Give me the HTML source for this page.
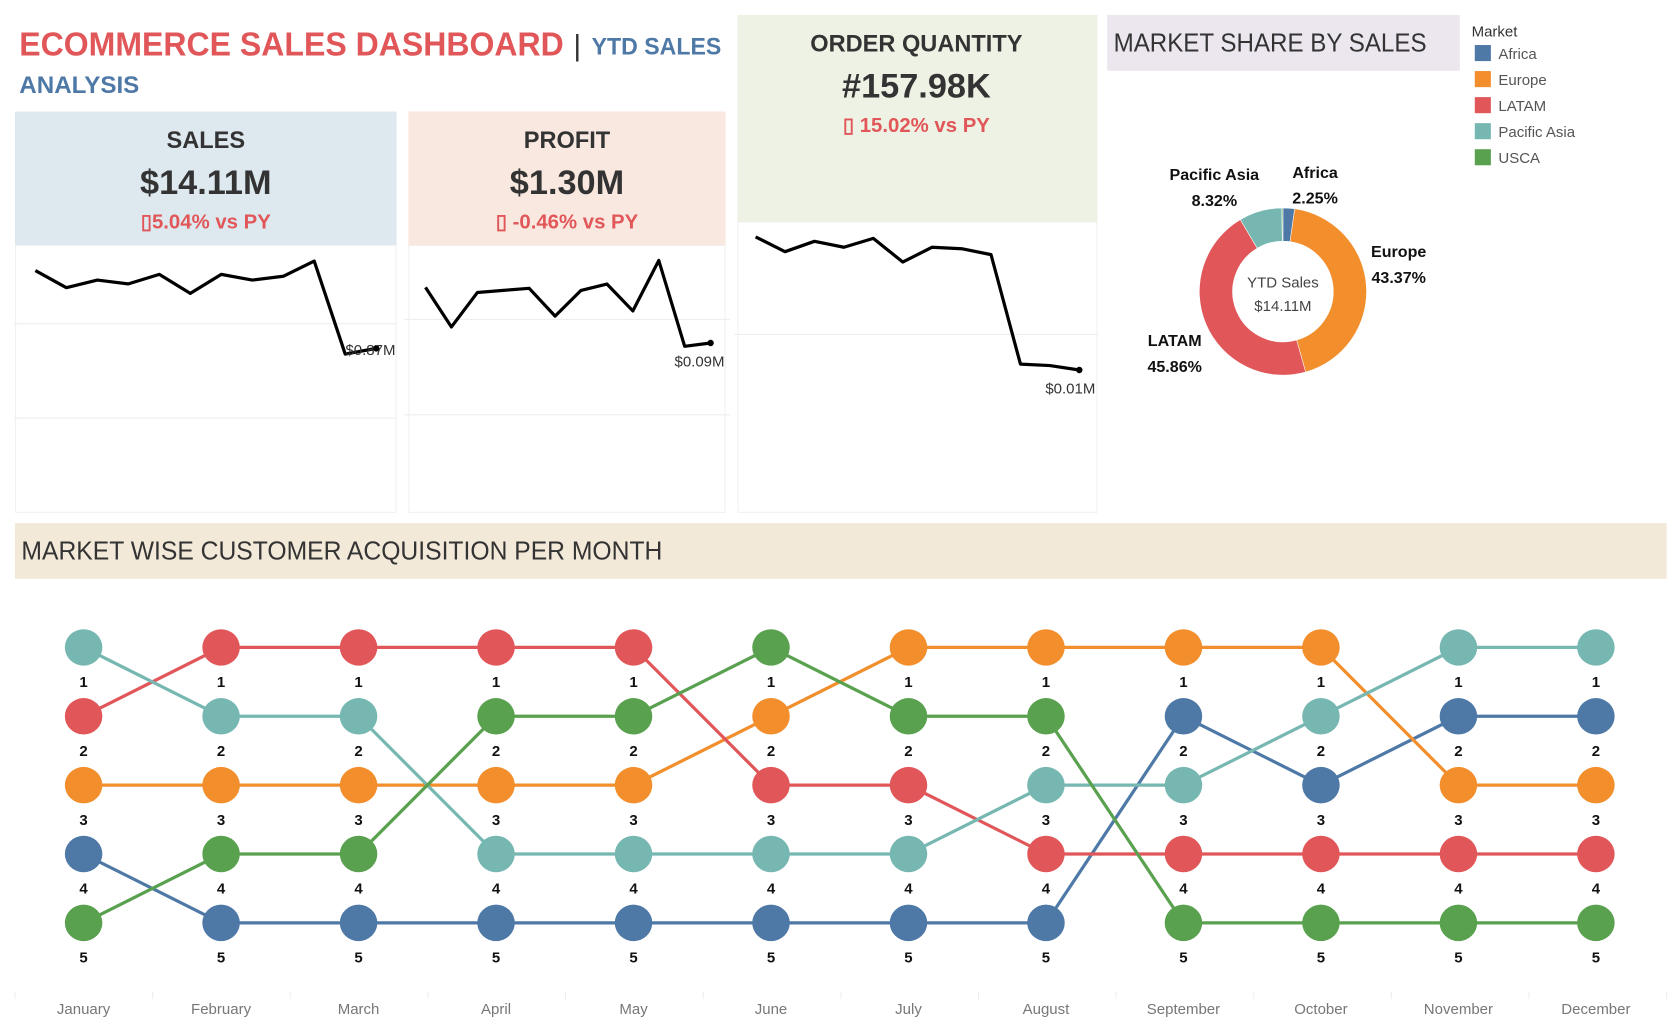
<!DOCTYPE html>
<html><head><meta charset="utf-8">
<style>
html,body{margin:0;padding:0;background:#fff;}
svg{display:block;font-family:"Liberation Sans",sans-serif;}
</style></head>
<body>
<svg id="dash" width="1672" height="1029" viewBox="0 0 1560 960" preserveAspectRatio="none" xmlns="http://www.w3.org/2000/svg">
  <!-- Title -->
  <text x="18" y="52" font-size="31" font-weight="bold" fill="#e15759" textLength="508" lengthAdjust="spacingAndGlyphs">ECOMMERCE SALES DASHBOARD</text>
  <text x="535" y="52" font-size="28" fill="#333">|</text>
  <text x="552" y="51" font-size="22" font-weight="bold" fill="#4e79a7" textLength="121" lengthAdjust="spacingAndGlyphs">YTD SALES</text>
  <text x="18" y="87" font-size="22" font-weight="bold" fill="#4e79a7" textLength="112" lengthAdjust="spacingAndGlyphs">ANALYSIS</text>

  <!-- Sales KPI -->
  <g>
    <rect x="14" y="104" width="356" height="125" fill="#dde9ef"/>
    <rect x="14.5" y="229" width="355" height="249" fill="#fff" stroke="#f0f0f0"/>
    <text x="192" y="138" text-anchor="middle" font-size="22" font-weight="bold" fill="#333">SALES</text>
    <text x="192" y="181" text-anchor="middle" font-size="32" font-weight="bold" fill="#333">$14.11M</text>
    <text x="192" y="213" text-anchor="middle" font-size="19" font-weight="bold" fill="#e15759">▯5.04%  vs  PY</text>
  </g>
  <!-- Profit KPI -->
  <g>
    <rect x="381" y="104" width="296" height="125" fill="#f9e8e0"/>
    <rect x="381.5" y="229" width="295" height="249" fill="#fff" stroke="#f0f0f0"/>
    <text x="529" y="138" text-anchor="middle" font-size="22" font-weight="bold" fill="#333">PROFIT</text>
    <text x="529" y="181" text-anchor="middle" font-size="32" font-weight="bold" fill="#333">$1.30M</text>
    <text x="529" y="213" text-anchor="middle" font-size="19" font-weight="bold" fill="#e15759">▯ -0.46% vs PY</text>
  </g>
  <!-- Order Quantity KPI -->
  <g>
    <rect x="688" y="14" width="336" height="193" fill="#eef2e4"/>
    <rect x="688.5" y="207" width="335" height="271" fill="#fff" stroke="#f0f0f0"/>
    <text x="855" y="48" text-anchor="middle" font-size="22" font-weight="bold" fill="#333">ORDER QUANTITY</text>
    <text x="855" y="91" text-anchor="middle" font-size="32" font-weight="bold" fill="#333">#157.98K</text>
    <text x="855" y="123" text-anchor="middle" font-size="19" font-weight="bold" fill="#e15759">▯ 15.02% vs PY</text>
  </g>

  <!-- Market share header -->
  <rect x="1033" y="14" width="329" height="52" fill="#ece6ef"/>
  <text x="1039" y="48" font-size="24" fill="#333" textLength="292" lengthAdjust="spacingAndGlyphs">MARKET SHARE BY SALES</text>
  <g id="legend"></g>
  <g id="donut"></g>

  <!-- Bump chart header -->
  <rect x="14" y="488" width="1541" height="52" fill="#f3e9d9"/>
  <text x="20" y="522" font-size="24" fill="#333" textLength="598" lengthAdjust="spacingAndGlyphs">MARKET WISE CUSTOMER ACQUISITION PER MONTH</text>
  <g id="spark"></g>
  <g id="bump"></g>
</svg>
<script>
const NS="http://www.w3.org/2000/svg";
function mk(tag,attrs,parent){const e=document.createElementNS(NS,tag);for(const k in attrs)e.setAttribute(k,attrs[k]);parent.appendChild(e);return e;}

// ---------- data ----------
const months=["January","February","March","April","May","June","July","August","September","October","November","December"];
const markets=["Africa","Europe","LATAM","Pacific Asia","USCA"];
const marketColors=["#4e79a7","#f28e2b","#e15759","#76b7b2","#59a14f"];
const shareValues=[2.25,43.37,45.86,8.32,0.2];
const shareLabels=["2.25%","43.37%","45.86%","8.32%",""];
const rankAfrica=[4,5,5,5,5,5,5,5,2,3,2,2];
const rankEurope=[3,3,3,3,3,2,1,1,1,1,3,3];
const rankLatam=[2,1,1,1,1,3,3,4,4,4,4,4];
const rankPacific=[1,2,2,4,4,4,4,3,3,2,1,1];
const rankUsca=[5,4,4,2,2,1,2,2,5,5,5,5];
const salesMonthly=[1.28,1.19,1.23,1.21,1.26,1.16,1.26,1.23,1.25,1.33,0.84,0.87];
const profitMonthly=[0.1136,0.0968,0.1114,0.1123,0.1132,0.1014,0.1123,0.115,0.1036,0.125,0.0886,0.09];
const qtyMonthly=[14.6,14.1,14.45,14.25,14.55,13.75,14.25,14.2,14.0,10.3,10.25,10.1];
const sparkLabels=["$0.87M","$0.09M","$0.01M"];

// ---------- legend ----------
const lg=document.getElementById('legend');
const lt=mk('text',{x:1373,y:34,'font-size':14,fill:'#333'},lg);lt.textContent="Market";


markets.forEach((m,i)=>{
  const g=mk('g',{},lg);
  
  
  mk('rect',{x:1376,y:42+i*24.3,width:15,height:15,fill:marketColors[i]},g);
  const t=mk('text',{x:1398,y:55+i*24.3,'font-size':14,fill:'#555'},g);t.textContent=m;
});

// ---------- donut ----------
const dg=document.getElementById('donut');
const cx=1197,cy=272,R=78,r=47;
const total=shareValues.reduce((a,b)=>a+b,0);
let ang=0;
shareValues.forEach((v,i)=>{
  const a0=ang,a1=ang+v/total*2*Math.PI;ang=a1;
  const p=(a,rad)=>[cx+rad*Math.sin(a),cy-rad*Math.cos(a)];
  const [x0,y0]=p(a0,R),[x1,y1]=p(a1,R),[x2,y2]=p(a1,r),[x3,y3]=p(a0,r);
  const large=(a1-a0)>Math.PI?1:0;
  const path=mk('path',{d:`M${x0},${y0}A${R},${R} 0 ${large} 1 ${x1},${y1}L${x2},${y2}A${r},${r} 0 ${large} 0 ${x3},${y3}Z`,fill:marketColors[i],stroke:'#fff','stroke-width':0.5},dg);
  
  
});
const dLabelPos=[[1227,166],[1305,240],[1096,323],[1133,168]];
[0,1,2,3].forEach(i=>{
  const [x,y]=dLabelPos[i];
  const t=mk('text',{x:x,y:y,'text-anchor':'middle','font-size':15,'font-weight':'bold',fill:'#111'},dg);t.textContent=markets[i];
  
  
  const t2=mk('text',{x:x,y:y+24,'text-anchor':'middle','font-size':15,'font-weight':'bold',fill:'#111'},dg);t2.textContent=shareLabels[i];
  
  
});
const c1=mk('text',{x:cx,y:268,'text-anchor':'middle','font-size':14,fill:'#444'},dg);c1.textContent="YTD Sales";


const c2=mk('text',{x:cx,y:290,'text-anchor':'middle','font-size':14,fill:'#444'},dg);c2.textContent="$14.11M";



// ---------- sparklines ----------
const sg=document.getElementById('spark');
function spark(vals,name,x0,x1,vRef,yRef,k,grids,label,lx,ly){
  const g=mk('g',{},sg);
  
  
  const ys=v=>yRef-(v-vRef)*k;
  grids.forEach(gy=>mk('line',{x1:x0-20,x2:x1+18,y1:gy,y2:gy,stroke:'#eee','stroke-width':1},g));
  const xs=i=>x0+(x1-x0)*i/(vals.length-1);
  const pts=vals.map((v,i)=>xs(i)+','+ys(v)).join(' ');
  const pl=mk('polyline',{points:pts,fill:'none',stroke:'#000','stroke-width':3,'stroke-linejoin':'round'},g);
  
  
  mk('circle',{cx:xs(vals.length-1),cy:ys(vals[vals.length-1]),r:3,fill:'#000'},g);
  const t=mk('text',{x:lx,y:ly,'text-anchor':'end','font-size':14,fill:'#333'},g);t.textContent=label;
}
spark(salesMonthly,'sales-sparkline',33,351,1.0,302,177,[302,390],sparkLabels[0],369,331);
spark(profitMonthly,'profit-sparkline',397,663,0.1,298,2200,[298,387],sparkLabels[1],676,342);
spark(qtyMonthly,'order-quantity-sparkline',705,1007,14.6,221,27.6,[312],sparkLabels[2],1022,367);

// ---------- bump chart ----------
const bg=document.getElementById('bump');
const ranks=[rankAfrica,rankEurope,rankLatam,rankPacific,rankUsca];
const xB=i=>78+i*(1489-78)/11;
const yB=rk=>604+(rk-1)*64.25;
for(let i=0;i<=12;i++){
  const sx=14+i*(1555-14)/12;
  mk('line',{x1:sx,x2:sx,y1:925,y2:932,stroke:'#eee'},bg);
}
months.forEach((m,i)=>{
  const t=mk('text',{x:xB(i),y:946,'text-anchor':'middle','font-size':14,fill:'#777'},bg);t.textContent=m;
  
  
});
ranks.forEach((rs,mi)=>{
  const pts=rs.map((rk,i)=>xB(i)+','+yB(rk)).join(' ');
  const pl=mk('polyline',{points:pts,fill:'none',stroke:marketColors[mi],'stroke-width':3},bg);
  
  
});
ranks.forEach((rs,mi)=>{
  rs.forEach((rk,i)=>{
    const e=mk('ellipse',{cx:xB(i),cy:yB(rk),rx:17.5,ry:17,fill:marketColors[mi]},bg);
    
    
    const t=mk('text',{x:xB(i),y:yB(rk)+37,'text-anchor':'middle','font-size':14,'font-weight':'bold',fill:'#111'},bg);t.textContent=rk;
  });
});
</script>
</body></html>
